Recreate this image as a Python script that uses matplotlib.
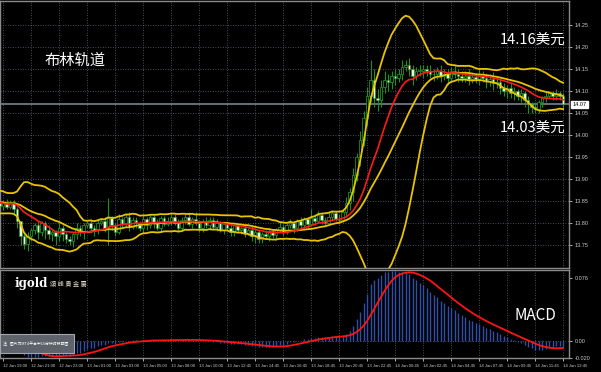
import numpy as np
import pandas as pd
import matplotlib
matplotlib.use("Agg")
import matplotlib.pyplot as plt
from matplotlib.patches import FancyBboxPatch
import matplotlib.transforms as mtransforms

# ---- data (XAG/USD M15) ----
# closes of the bars just before the left edge (indicator warm-up, not drawn)
warmup_close = [13.860, 13.850, 13.835, 13.820, 13.830, 13.845, 13.860, 13.870, 13.855, 13.840,
                13.825, 13.830, 13.850, 13.865, 13.870, 13.855, 13.840, 13.830, 13.845, 13.860,
                13.850, 13.835, 13.840, 13.855, 13.845]

close = [13.840, 13.845, 13.836, 13.848, 13.832, 13.805, 13.770, 13.752, 13.770, 13.785,
         13.795, 13.780, 13.800, 13.785, 13.775, 13.780, 13.770, 13.790, 13.775, 13.765,
         13.760, 13.775, 13.790, 13.780, 13.795, 13.800, 13.790, 13.785, 13.800, 13.805,
         13.790, 13.812, 13.795, 13.780, 13.810, 13.798, 13.815, 13.792, 13.808, 13.800,
         13.788, 13.810, 13.795, 13.815, 13.800, 13.790, 13.812, 13.798, 13.805, 13.815,
         13.800, 13.790, 13.808, 13.815, 13.798, 13.810, 13.800, 13.790, 13.805, 13.795,
         13.808, 13.792, 13.800, 13.785, 13.798, 13.790, 13.780, 13.795, 13.785, 13.790,
         13.778, 13.785, 13.770, 13.780, 13.765, 13.775, 13.770, 13.782, 13.772, 13.785,
         13.792, 13.780, 13.795, 13.800, 13.788, 13.805, 13.795, 13.810, 13.798, 13.812,
         13.805, 13.818, 13.808, 13.800, 13.815, 13.822, 13.810, 13.808, 13.825, 13.845,
         13.870, 13.910, 13.950, 13.990, 14.040, 14.090, 14.125, 14.085, 14.080, 14.110,
         14.125, 14.120, 14.135, 14.130, 14.140, 14.155, 14.160, 14.150, 14.135, 14.145,
         14.145, 14.150, 14.145, 14.140, 14.138, 14.145, 14.135, 14.140, 14.130, 14.145,
         14.140, 14.135, 14.130, 14.135, 14.128, 14.132, 14.128, 14.135, 14.130, 14.122,
         14.128, 14.118, 14.120, 14.108, 14.100, 14.108, 14.095, 14.100, 14.090, 14.095,
         14.080, 14.070, 14.065, 14.060, 14.075, 14.085, 14.090, 14.095, 14.090, 14.095,
         14.090, 14.070]

# wick lengths above / below the body, in 0.005 steps
wick_up = [1, 1, 2, 1, 1, 1, 0, 1, 2, 1,
           1, 2, 1, 1, 2, 1, 1, 2, 1, 1,
           1, 1, 2, 1, 1, 1, 2, 1, 2, 1,
           2, 9, 1, 1, 2, 1, 1, 2, 1, 1,
           1, 2, 1, 1, 1, 2, 1, 1, 2, 1,
           1, 2, 1, 1, 2, 1, 3, 1, 1, 2,
           1, 1, 2, 1, 1, 1, 2, 1, 1, 2,
           1, 1, 2, 1, 1, 1, 2, 1, 1, 1,
           2, 1, 1, 2, 1, 1, 2, 1, 1, 4,
           1, 2, 1, 1, 2, 1, 1, 2, 1, 3,
           2, 3, 2, 4, 3, 4, 9, 5, 4, 3,
           4, 3, 2, 3, 2, 3, 2, 3, 2, 2,
           3, 2, 2, 3, 2, 2, 3, 2, 2, 2,
           3, 2, 2, 2, 3, 2, 2, 3, 2, 2,
           2, 3, 2, 2, 2, 1, 2, 2, 1, 2,
           1, 2, 1, 2, 1, 1, 2, 1, 1, 2,
           1, 1]
wick_dn = [1, 2, 1, 1, 2, 3, 4, 2, 3, 2,
           2, 3, 2, 4, 2, 3, 4, 2, 3, 2,
           2, 3, 2, 2, 3, 1, 2, 3, 2, 1,
           2, 8, 2, 2, 1, 2, 1, 2, 1, 2,
           1, 2, 2, 1, 2, 1, 2, 1, 1, 2,
           1, 2, 1, 2, 1, 2, 1, 2, 2, 1,
           2, 1, 2, 1, 2, 1, 2, 2, 1, 2,
           2, 1, 2, 3, 2, 2, 1, 2, 1, 2,
           1, 2, 1, 1, 2, 1, 2, 1, 2, 1,
           2, 1, 2, 1, 1, 2, 1, 2, 1, 2,
           3, 4, 3, 4, 3, 4, 3, 4, 5, 3,
           3, 4, 3, 3, 2, 3, 2, 3, 4, 2,
           2, 3, 2, 2, 3, 2, 3, 2, 3, 2,
           2, 3, 2, 2, 3, 2, 2, 3, 2, 3,
           2, 3, 2, 3, 2, 3, 2, 3, 2, 3,
           3, 4, 3, 2, 2, 2, 2, 1, 2, 2,
           2, 2]

date_labels = ["12 Jan 19:00", "12 Jan 21:00", "12 Jan 23:00", "13 Jan 01:00", "13 Jan 03:00",
               "13 Jan 05:00", "13 Jan 08:00", "13 Jan 10:00", "13 Jan 12:45", "13 Jan 14:45",
               "13 Jan 16:45", "13 Jan 18:45", "13 Jan 20:45", "13 Jan 22:45", "14 Jan 00:45",
               "14 Jan 02:45", "14 Jan 04:45", "14 Jan 07:45", "14 Jan 09:45", "14 Jan 11:45",
               "14 Jan 13:45"]
price_ticks = [13.75, 13.80, 13.85, 13.90, 13.95, 14.00, 14.05, 14.10, 14.15, 14.20, 14.25]
last_price = 14.07

# ---- indicators ----
allc = pd.Series(warmup_close + close)
nw = len(warmup_close)
mid = allc.rolling(20).mean()
sd = allc.rolling(20).std(ddof=0)
upper = (mid + 2 * sd).values[nw:]
lower = (mid - 2 * sd).values[nw:]
mid = mid.values[nw:]
ma_red = allc.rolling(12).mean().values[nw:]
macd_full = allc.ewm(span=12, adjust=False).mean() - allc.ewm(span=26, adjust=False).mean()
signal = macd_full.rolling(9).mean().values[nw:]
macd = macd_full.values[nw:]

c = np.array(close)
o = np.concatenate([[warmup_close[-1]], c[:-1]])
hi = np.maximum(o, c) + np.array(wick_up) * 0.005
lo = np.minimum(o, c) - np.array(wick_dn) * 0.005
x = np.arange(len(c))

# ---- figure ----
W, H = 601, 372
fig = plt.figure(figsize=(W / 100, H / 100), dpi=100, facecolor="black")

def fx(px):
    return px / W

def fy(py):
    return 1 - py / H

ax = fig.add_axes([0, fy(268), fx(569), fy(1) - fy(268)], facecolor="black")
ax2 = fig.add_axes([0, fy(358), fx(569), fy(270) - fy(358)], facecolor="black")

GRID = "#5e6b78"
TXT = "#c8c8c8"
xlim = (0.14, 162.7)
small = "Liberation Sans"

# candles
ax.vlines(x, lo, hi, color="#1f8f1f", lw=0.8, zorder=2)
bull = c >= o
body_h = np.where(np.abs(c - o) < 0.002, 0.002, np.abs(c - o))
ax.bar(x[bull], body_h[bull], bottom=o[bull], width=0.7, color="black",
       edgecolor="#1f8f1f", lw=0.6, zorder=3)
ax.bar(x[~bull], body_h[~bull], bottom=c[~bull], width=0.7, color="#e8f8dc",
       edgecolor="#1f8f1f", lw=0.4, zorder=3)

# bollinger + MA
for band in (upper, mid, lower):
    ax.plot(x, band, color="#e8c300", lw=1.3, zorder=4)
ax.plot(x, ma_red, color="#ff1a1a", lw=1.2, zorder=5)

ax.axhline(last_price, color="#7a8290", lw=1.2, zorder=1)

ax.set_xlim(*xlim)
ax.set_ylim(13.698, 14.305)
ax.yaxis.tick_right()
ax.set_yticks(price_ticks)
ax.set_yticklabels(["%.2f" % t for t in price_ticks], family=small)
ax.tick_params(axis="y", colors=TXT, labelsize=4, length=2, width=0.6, pad=2)
ax.tick_params(axis="x", length=0, labelbottom=False)
ax.set_xticks(np.arange(1, 162, 8))
ax.grid(True, color=GRID, ls=(0, (1, 2)), lw=0.6)
for s in ax.spines.values():
    s.set_color("#8a8a8a")
    s.set_linewidth(1.0)

trans = mtransforms.blended_transform_factory(ax.transAxes, ax.transData)
ax.text(1.006, last_price, "%.2f" % last_price, transform=trans, fontsize=4, color="black",
        va="center", ha="left", family=small,
        bbox=dict(boxstyle="square,pad=0.2", fc="white", ec="white"))

# MACD
top = max(0.076, np.nanmax(macd), np.nanmax(signal)) * 1.01
ax2.vlines(x, 0, macd, color="#2f4ea8", lw=1.0, zorder=2)
ax2.plot(x, signal, color="#ff1414", lw=1.3, zorder=3)
ax2.axhline(0, color=GRID, ls=(0, (1, 2)), lw=0.6)
ax2.set_xlim(*xlim)
ax2.set_ylim(-0.020, top)
ax2.yaxis.tick_right()
ax2.set_yticks([-0.020, 0.0, 0.076])
ax2.set_yticklabels(["-0.020", "0.00", "0.076"], family=small)
ax2.tick_params(axis="y", colors=TXT, labelsize=4, length=2, width=0.6, pad=2)
ax2.set_xticks(np.arange(1, 162, 8))
ax2.set_xticklabels(date_labels, family=small)
ax2.tick_params(axis="x", colors=TXT, labelsize=3.1, length=2, width=0.6, pad=2)
for lbl in ax2.get_xticklabels():
    lbl.set_horizontalalignment("left")
ax2.grid(True, axis="x", color=GRID, ls=(0, (1, 2)), lw=0.6)
for s in ax2.spines.values():
    s.set_color("#8a8a8a")
    s.set_linewidth(1.0)

# annotations
cjk = ["Noto Sans CJK SC", "DejaVu Sans"]
fig.text(fx(45), fy(60), "布林轨道", color="white", fontsize=11, family=cjk, va="center")
fig.text(fx(500), fy(40), "14.16美元", color="white", fontsize=10.5, family=cjk, va="center")
fig.text(fx(500), fy(128), "14.03美元", color="white", fontsize=10.5, family=cjk, va="center")
fig.text(fx(515), fy(316), "MACD", color="white", fontsize=11, family=cjk, va="center")

fig.text(fx(15), fy(284), "igold", color="white", fontsize=8.5, family="DejaVu Serif",
         weight="bold", va="center")
fig.text(fx(50), fy(284), "頌 峰 貴 金 屬", color="#e6dccb", fontsize=4.5,
         family=["Noto Sans CJK TC", "DejaVu Sans"], va="center")

box = FancyBboxPatch((fx(0), fy(353)), fx(74), fy(334) - fy(353),
                     boxstyle="square,pad=0", transform=fig.transFigure,
                     fc="#5d626b", ec="#a0a6ae", lw=0.8, zorder=10)
fig.patches.append(box)
fig.text(fx(3), fy(343.5), "注：图片为MT4平台中15分钟时段截图", color="white", fontsize=2.8,
         family=cjk, va="center", zorder=11)

fig.savefig("out.png", dpi=100, facecolor="black")
